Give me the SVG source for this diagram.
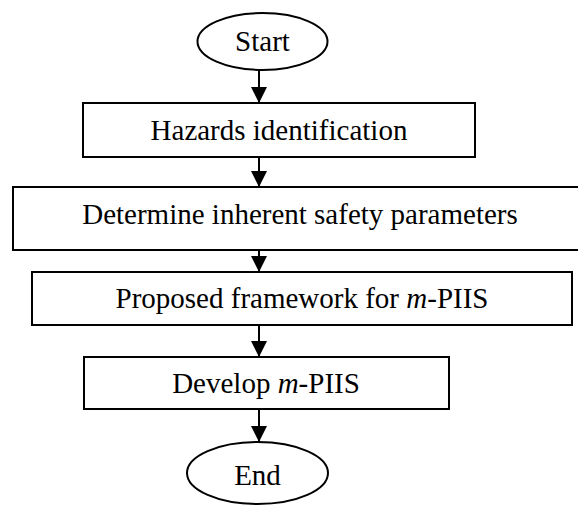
<svg xmlns="http://www.w3.org/2000/svg" width="578" height="506" viewBox="0 0 578 506">
<defs>
<style>
.n{fill:#fff;stroke:#000;stroke-width:2}
.t{font-family:"Liberation Serif","Times New Roman",serif;font-size:29px;fill:#000;text-anchor:middle}
.c{stroke:#000;stroke-width:2;fill:none;marker-end:url(#ah)}
</style>
<marker id="ah" markerWidth="16" markerHeight="16" viewBox="0 0 16 16" refX="16" refY="8" orient="auto" markerUnits="userSpaceOnUse">
<path d="M0,0 L16,8 L0,16 Z" fill="#000"/>
</marker>
</defs>
<rect width="578" height="506" fill="#fff"/>
<g id="connectors">
<line class="c" x1="259" y1="70" x2="259" y2="103"/>
<line class="c" x1="259" y1="157" x2="259" y2="187"/>
<line class="c" x1="259" y1="250" x2="259" y2="272"/>
<line class="c" x1="259" y1="325" x2="259" y2="357"/>
<line class="c" x1="259" y1="409" x2="259" y2="442"/>
</g>
<g id="start">
<ellipse class="n" cx="262.5" cy="41.5" rx="65" ry="28.5"/>
<text class="t" x="262.5" y="51">Start</text>
</g>
<g id="hazards">
<rect class="n" x="83" y="103" width="392" height="54"/>
<text class="t" x="279" y="140">Hazards identification</text>
</g>
<g id="determine">
<rect class="n" x="13" y="187" width="575" height="63"/>
<text class="t" x="300" y="224">Determine inherent safety parameters</text>
</g>
<g id="proposed">
<rect class="n" x="32" y="272" width="540" height="53"/>
<text class="t" x="302" y="308">Proposed framework for <tspan font-style="italic">m</tspan>-PIIS</text>
</g>
<g id="develop">
<rect class="n" x="84" y="357" width="365" height="52"/>
<text class="t" x="266" y="393">Develop <tspan font-style="italic">m</tspan>-PIIS</text>
</g>
<g id="end">
<ellipse class="n" cx="257.5" cy="473" rx="70.5" ry="31"/>
<text class="t" x="257.5" y="485">End</text>
</g>
</svg>
